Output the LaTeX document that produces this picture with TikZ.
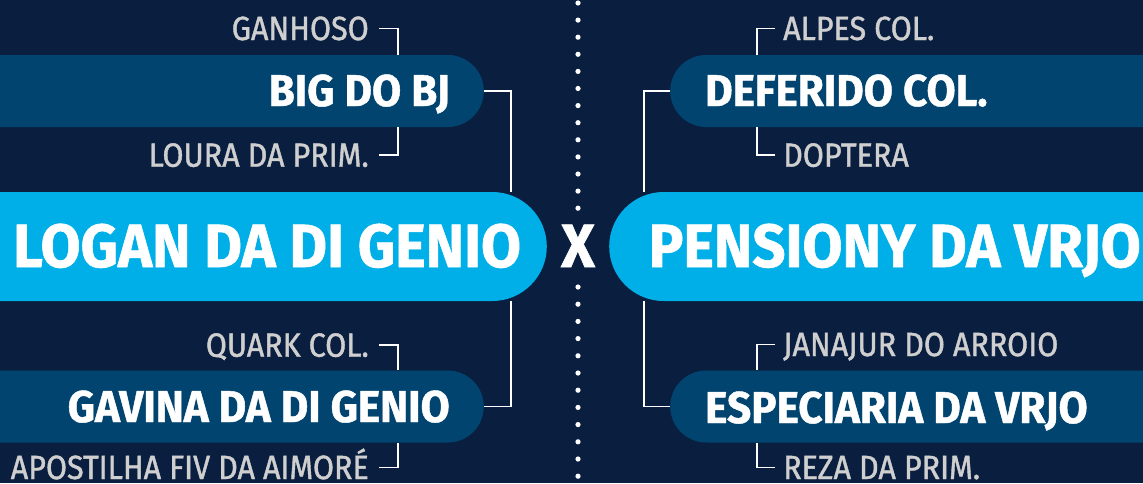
\documentclass[tikz,border=0pt]{standalone}
\usepackage{fontspec}
\setmainfont{Fira Sans}
\newfontfamily\namefont[FakeStretch=0.95,FakeBold=1]{Fira Sans}
\newfontfamily\grandfont[FakeStretch=0.91,FakeBold=1.2]{Fira Sans}
\usepackage{tikz}
\usetikzlibrary{positioning}
\usetikzlibrary{calc}
\definecolor{navy}{HTML}{0A1F40}
\definecolor{pillblue}{HTML}{00446F}
\definecolor{pillcyan}{HTML}{00AEE8}
\definecolor{greytext}{HTML}{CFCFCF}
\tikzstyle{parentpill}=[rectangle,fill=pillblue,minimum width=560pt,minimum height=72pt,rounded corners=36pt,inner sep=0pt]
\tikzstyle{mainpill}=[rectangle,fill=pillcyan,minimum width=640pt,minimum height=109pt,rounded corners=54.5pt,inner sep=0pt]
\tikzstyle{grandname}=[inner sep=0pt,text=greytext,font=\grandfont\fontsize{33.5}{34}\selectfont,text height=23pt,text depth=0pt]
\tikzstyle{parentname}=[inner sep=0pt,text=white,font=\namefont\bfseries\fontsize{44.5}{45}\selectfont]
\tikzstyle{mainname}=[inner sep=0pt,text=white,font=\namefont\bfseries\fontsize{61}{62}\selectfont]
\tikzstyle{link} = [draw,white,line width=1.5pt]

\begin{document}
\begin{tikzpicture}[x=1pt, y=-1pt]

    \fill[navy] (0,0) rectangle (1143,483);
    \useasboundingbox (0,0) rectangle (1143,483);

    % dotted divider
    \foreach \k in {0,...,12}
        \fill[white] (578, 3+17.1*\k) circle (2.6pt);
    \foreach \k in {0,...,11}
        \fill[white] (578, 287+17.2*\k) circle (2.6pt);

    % main pills
    \node[mainpill, anchor=east] (logpill) at (547,246.5) {};
    \node[mainpill, anchor=west] (penpill) at (609,246.5) {};
    \node[mainname, anchor=base west] (logan) at (13,267) {LOGAN DA DI GENIO};
    \node[mainname, anchor=base east] (pension) at (1141,267) {PENSIONY DA VRJO};
    \node[mainname, anchor=base] (versus) at (578,267) {X};

    % parent pills, left and right
    \foreach \n/\y in {big/91, gav/406.5}
        \node[parentpill, anchor=east] (\n pill) at (484,\y) {};
    \foreach \n/\y in {def/91, esp/406.5}
        \node[parentpill, anchor=west] (\n pill) at (670,\y) {};

    \foreach \n/\y/\txt in {big/106/BIG DO BJ, gav/422/GAVINA DA DI GENIO}
        \node[parentname, anchor=base east] (\n) at (450,\y) {\txt};
    \foreach \n/\y/\txt in {def/106/DEFERIDO COL., esp/423/ESPECIARIA DA VRJO}
        \node[parentname, anchor=base west] (\n) at (705,\y) {\txt};

    % grandparents
    \foreach \n/\y/\txt in {gan/40/GANHOSO, lou/166.7/LOURA DA PRIM., qua/356.7/QUARK COL., apo/479/APOSTILHA FIV DA AIMORÉ}
        \node[grandname, anchor=base east] (\n) at (369,\y) {\txt};
    \foreach \n/\y/\txt in {alp/40/ALPES COL., dop/166.7/DOPTERA, jan/356/JANAJUR DO ARROIO, rez/479/REZA DA PRIM.}
        \node[grandname, anchor=base west] (\n) at (783,\y) {\txt};

    % brackets to the parents
    \foreach \g/\p/\side in {gan/big/north, lou/big/south, qua/gav/north, apo/gav/south}
        \draw[link] ([xshift=10pt]\g.east) -| ([xshift=-86pt]\p pill.\side\space east);
    \foreach \g/\p/\side in {alp/def/north, dop/def/south, jan/esp/north, rez/esp/south}
        \draw[link] ([xshift=-8pt]\g.west) -| ([xshift=87pt]\p pill.\side\space west);

    % parents to the main names
    \draw[link] (bigpill.east) -| ([xshift=-36pt]logpill.north east);
    \draw[link] (gavpill.east) -| ([xshift=-36pt]logpill.south east);
    \draw[link] (defpill.west) -| ([xshift=35pt]penpill.north west);
    \draw[link] (esppill.west) -| ([xshift=35pt]penpill.south west);

\end{tikzpicture}
\end{document}
